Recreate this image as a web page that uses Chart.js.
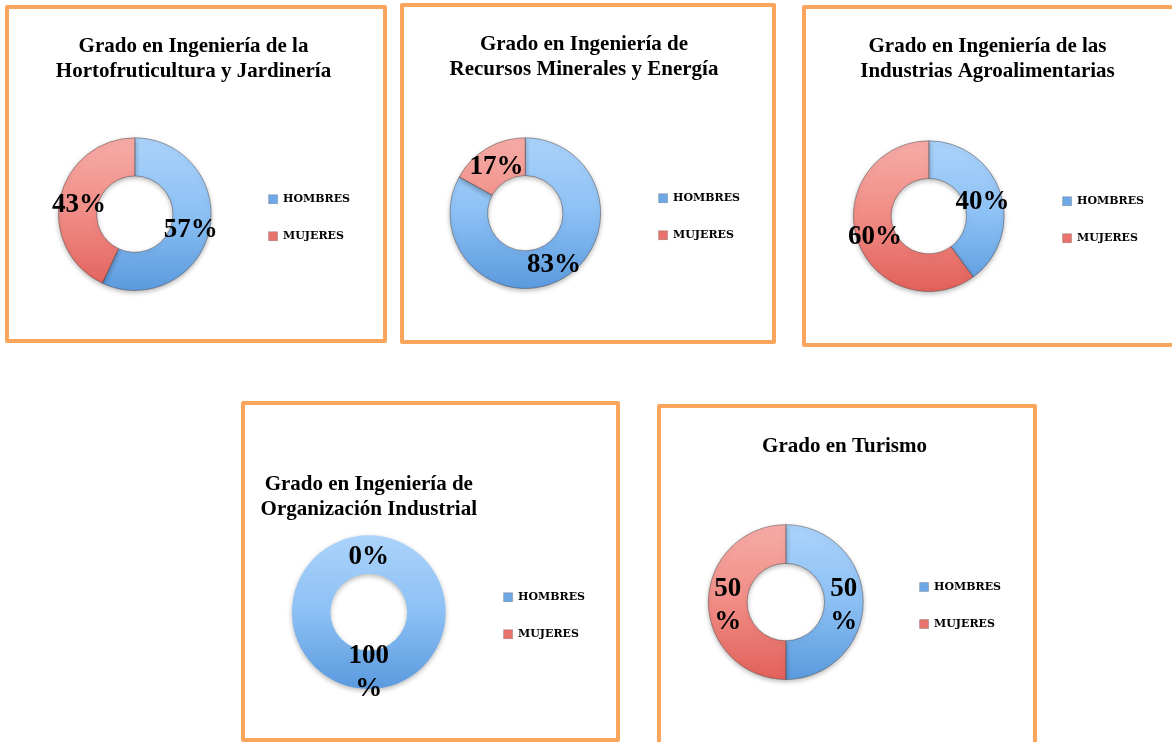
<!DOCTYPE html>
<html lang="es">
<head>
<meta charset="utf-8">
<title>Hombres y mujeres por grado</title>
<script src="https://cdn.jsdelivr.net/npm/chart.js@4.4.1/dist/chart.umd.min.js"></script>
<style>
  html, body {
    margin: 0;
    padding: 0;
    background: #fff;
  }
  body {
    position: relative;
    width: 1172px;
    height: 742px;
    overflow: hidden;
  }
  .panel {
    position: absolute;
    box-sizing: border-box;
    border: 4px solid #f9a55b;
    border-radius: 2px;
    background: #fff;
  }
  .panel canvas {
    position: absolute;
    left: 0;
    top: 0;
  }
</style>
</head>
<body>

<script>
// datos de cada grado
const titulos = [
    ['Grado en Ingeniería de la', 'Hortofruticultura y Jardinería'],
    ['Grado en Ingeniería de', 'Recursos Minerales y Energía'],
    ['Grado en Ingeniería de las', 'Industrias Agroalimentarias'],
    ['Grado en Ingeniería de', 'Organización Industrial'],
    ['Grado en Turismo']
];
const categorias = ['HOMBRES', 'MUJERES'];
const hombres = [57, 83, 40, 100, 50];
const mujeres = [43, 17, 60, 0, 50];

// colocacion de los paneles en la pagina
const paneles = [
    { x: 5,   y: 5,   w: 382, h: 338, pad: { left: 18, right: 23, bottom: 48 }, tituloPad: { top: 26, bottom: 54 }, tituloAncho: true,  partir: false },
    { x: 400, y: 3,   w: 376, h: 341, pad: { left: 14, right: 22, bottom: 51 }, tituloPad: { top: 26, bottom: 56 }, tituloAncho: true,  partir: false },
    { x: 802, y: 5,   w: 376, h: 342, pad: { left: 15, right: 20, bottom: 51 }, tituloPad: { top: 26, bottom: 57 }, tituloAncho: true,  partir: false },
    { x: 241, y: 401, w: 379, h: 341, pad: { left: 15, right: 21, bottom: 49 }, tituloPad: { top: 68, bottom: 14 }, tituloAncho: false, partir: true },
    { x: 657, y: 404, w: 380, h: 342, pad: { left: 17, right: 22, bottom: 62 }, tituloPad: { top: 27, bottom: 65 }, tituloAncho: true,  partir: true }
];

const coloresLeyenda = ['#6fa8e6', '#e8736c'];
const degradados = [
    ['#abd3fb', '#8cc0f4', '#5a9ade'],
    ['#f7aca7', '#f08c85', '#e2605a']
];

function relleno(context) {
    const chart = context.chart;
    const area = chart.chartArea;
    const i = context.dataIndex;
    if (!area) {
        return coloresLeyenda[i];
    }
    const g = chart.ctx.createLinearGradient(0, area.top, 0, area.bottom);
    g.addColorStop(0, degradados[i][0]);
    g.addColorStop(0.5, degradados[i][1]);
    g.addColorStop(1, degradados[i][2]);
    return g;
}

// sombra suave debajo del anillo, como el bisel de Excel
const sombra = {
    id: 'sombra',
    beforeDatasetsDraw(chart) {
        const ctx = chart.ctx;
        ctx.save();
        ctx.shadowColor = 'rgba(0,0,0,0.28)';
        ctx.shadowBlur = 5;
        ctx.shadowOffsetY = 2;
    },
    afterDatasetsDraw(chart) {
        chart.ctx.restore();
    }
};

// etiquetas de porcentaje sobre cada sector
const etiquetasPct = {
    id: 'etiquetasPct',
    afterDatasetsDraw(chart, args, opts) {
        const ctx = chart.ctx;
        const meta = chart.getDatasetMeta(0);
        const valores = chart.data.datasets[0].data;
        ctx.save();
        ctx.font = 'bold 27px "Liberation Serif"';
        ctx.fillStyle = '#000';
        ctx.textAlign = 'center';
        ctx.textBaseline = 'middle';
        meta.data.forEach((arc, i) => {
            const pos = arc.tooltipPosition();
            // en los graficos estrechos Excel parte la etiqueta en dos lineas
            const lineas = (opts.partir && valores[i] >= 50) ? [String(valores[i]), '%'] : [valores[i] + '%'];
            lineas.forEach((t, k) => {
                const dy = (k - (lineas.length - 1) / 2) * 33;
                ctx.fillText(t, pos.x, pos.y + 3 + dy);
            });
        });
        ctx.restore();
    }
};

paneles.forEach((p, n) => {
    const div = document.createElement('div');
    div.className = 'panel';
    div.style.left = p.x + 'px';
    div.style.top = p.y + 'px';
    div.style.width = p.w + 'px';
    div.style.height = p.h + 'px';
    const canvas = document.createElement('canvas');
    canvas.width = p.w - 8;
    canvas.height = p.h - 8;
    div.appendChild(canvas);
    document.body.appendChild(div);

    new Chart(canvas.getContext('2d'), {
        type: 'doughnut',
        data: {
            labels: categorias,
            datasets: [{
                data: [hombres[n], mujeres[n]],
                backgroundColor: relleno,
                borderColor: 'rgba(70,60,60,0.45)',
                // si un sector vale 0 el anillo va entero, sin raya
                borderWidth: (c) => c.dataset.data.includes(0) ? 0 : 1
            }]
        },
        options: {
            responsive: false,
            animation: false,
            cutout: '50%',
            layout: {
                padding: { left: p.pad.left, right: p.pad.right, top: 0, bottom: p.pad.bottom }
            },
            plugins: {
                title: {
                    display: true,
                    text: titulos[n],
                    color: '#000',
                    fullSize: p.tituloAncho,
                    font: { family: '"Liberation Serif", serif', size: 21, weight: 'bold', lineHeight: 1.15 },
                    padding: p.tituloPad
                },
                legend: {
                    position: 'right',
                    fullSize: false,
                    align: 'center',
                    // titulo vacio: solo baja un poco la leyenda
                    title: { display: true, text: '', font: { size: 1, lineHeight: 1 }, padding: { top: 6, bottom: 0 } },
                    labels: {
                        color: '#000',
                        font: { family: '"DejaVu Serif", serif', size: 11, weight: 'bold' },
                        boxWidth: 9,
                        boxHeight: 9,
                        padding: 26,
                        generateLabels: function() {
                            return categorias.map((c, i) => ({
                                text: c,
                                fillStyle: coloresLeyenda[i],
                                strokeStyle: 'rgba(70,70,70,0.5)',
                                fontColor: '#000',
                                lineWidth: 0.5,
                                hidden: false,
                                index: i
                            }));
                        }
                    }
                },
                tooltip: { enabled: false },
                etiquetasPct: { partir: p.partir }
            }
        },
        plugins: [sombra, etiquetasPct]
    });
});
</script>
</body>
</html>
